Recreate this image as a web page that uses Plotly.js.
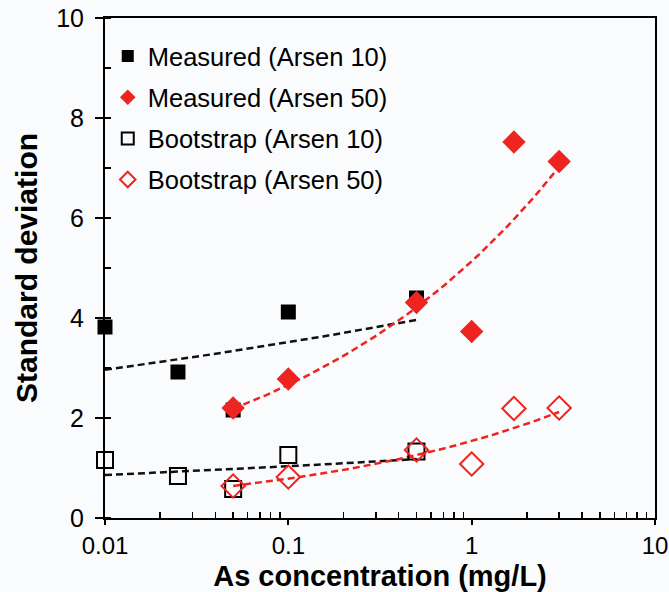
<!DOCTYPE html>
<html><head><meta charset="utf-8">
<script src="https://cdn.plot.ly/plotly-3.0.1.min.js"></script>
<style>html,body{margin:0;padding:0;background:#fafbfd;}</style>
</head><body>
<div id="chart" style="width:669px;height:592px;"></div>
<script>
// Data
const concM10 = [0.01, 0.025, 0.05, 0.1, 0.5];
const sdMeasured10 = [3.82, 2.92, 2.16, 4.12, 4.40];
const concM50 = [0.05, 0.1, 0.5, 1, 1.7, 3];
const sdMeasured50 = [2.20, 2.78, 4.31, 3.73, 7.52, 7.13];
const concB10 = [0.01, 0.025, 0.05, 0.1, 0.5];
const sdBoot10 = [1.16, 0.84, 0.58, 1.26, 1.33];
const concB50 = [0.05, 0.1, 0.5, 1, 1.7, 3];
const sdBoot50 = [0.64, 0.82, 1.36, 1.08, 2.19, 2.20];
const seriesNames = ['Measured (Arsen 10)', 'Measured (Arsen 50)', 'Bootstrap (Arsen 10)', 'Bootstrap (Arsen 50)'];
const xTickVals = [0.01, 0.1, 1, 10];
const xTickText = ['0.01', '0.1', '1', '10'];

// Power-law trendline (least squares in log-log space), as in the source spreadsheet
function powerFit(xs, ys) {
  const lx = xs.map(Math.log), ly = ys.map(Math.log);
  const n = xs.length;
  const mx = lx.reduce((a, b) => a + b, 0) / n, my = ly.reduce((a, b) => a + b, 0) / n;
  let sxy = 0, sxx = 0;
  for (let i = 0; i < n; i++) { sxy += (lx[i] - mx) * (ly[i] - my); sxx += (lx[i] - mx) ** 2; }
  const b = sxy / sxx, a = Math.exp(my - b * mx);
  const lo = Math.log10(Math.min(...xs)), hi = Math.log10(Math.max(...xs));
  const fx = [], fy = [];
  for (let k = 0; k <= 60; k++) { const x = Math.pow(10, lo + (hi - lo) * k / 60); fx.push(x); fy.push(a * Math.pow(x, b)); }
  return {x: fx, y: fy};
}

// minor tick positions 2..9 in each decade of the log axis
const minorX = [];
for (let d = -2; d < 1; d++) for (let m = 2; m <= 9; m++) minorX.push(m * Math.pow(10, d));

const RED = '#ee2420';
const f1 = powerFit(concM10, sdMeasured10), f2 = powerFit(concM50, sdMeasured50);
const f3 = powerFit(concB10, sdBoot10), f4 = powerFit(concB50, sdBoot50);
const lineStyle = (c) => ({color: c, width: 2.5, dash: '7px,4px'});

const traces = [
  {x: f1.x, y: f1.y, mode: 'lines', line: lineStyle('#111'), showlegend: false, hoverinfo: 'skip'},
  {x: f3.x, y: f3.y, mode: 'lines', line: lineStyle('#111'), showlegend: false, hoverinfo: 'skip'},
  {x: f2.x, y: f2.y, mode: 'lines', line: lineStyle(RED), showlegend: false, hoverinfo: 'skip'},
  {x: f4.x, y: f4.y, mode: 'lines', line: lineStyle(RED), showlegend: false, hoverinfo: 'skip'},
  {x: concM10, y: sdMeasured10, mode: 'markers', name: seriesNames[0], legendgroup: 'a',
   cliponaxis: false, marker: {symbol: 'square', size: 15, color: '#000'}},
  {x: concM50, y: sdMeasured50, mode: 'markers', name: seriesNames[1], legendgroup: 'b',
   cliponaxis: false, marker: {symbol: 'diamond', size: 18, color: RED}},
  {x: concB10, y: sdBoot10, mode: 'markers', name: seriesNames[2], legendgroup: 'c',
   cliponaxis: false, marker: {symbol: 'square-open', size: 16, color: '#000', line: {width: 2}}},
  {x: concB50, y: sdBoot50, mode: 'markers', name: seriesNames[3], legendgroup: 'd',
   cliponaxis: false, marker: {symbol: 'diamond-open', size: 18, color: RED, line: {width: 2}}}
];

const layout = {
  width: 669, height: 592,
  margin: {l: 105, r: 14, t: 18, b: 74},
  paper_bgcolor: '#fafbfd', plot_bgcolor: '#fafbfd',
  font: {family: 'Liberation Sans, Arial, sans-serif', color: '#000', size: 18},
  showlegend: true,
  legend: {x: 0.005, y: 0.97, xanchor: 'left', yanchor: 'top', bgcolor: 'rgba(0,0,0,0)',
           font: {size: 25.5}, tracegroupgap: 5, itemwidth: 30, itemsizing: 'constant', traceorder: 'grouped'},
  xaxis: {type: 'log', range: [-2, 1], tickvals: xTickVals, ticktext: xTickText,
          showgrid: false, zeroline: false, showline: true, linecolor: '#000', linewidth: 2, mirror: true,
          ticks: 'outside', ticklen: 5, tickwidth: 2, tickcolor: '#000', ticklabelstandoff: 0,
          tickfont: {size: 24},
          minor: {tickmode: 'array', tickvals: minorX, ticks: 'inside', ticklen: 6, tickwidth: 1.5, tickcolor: '#000', showgrid: false},
          title: {text: '<b>As concentration (mg/L)</b>', font: {size: 29}, standoff: 8}},
  yaxis: {range: [0, 10], dtick: 2, showgrid: false, zeroline: false, showline: true, linecolor: '#000',
          linewidth: 2, mirror: true, ticks: 'outside', ticklen: 8, tickwidth: 2, tickcolor: '#000',
          ticklabelstandoff: 6, tickfont: {size: 25},
          minor: {dtick: 1, ticks: 'inside', ticklen: 6, tickwidth: 1.5, tickcolor: '#000', showgrid: false},
          title: {text: '<b>Standard deviation</b>', font: {size: 30}, standoff: 10}}
};

Plotly.newPlot('chart', traces, layout, {displayModeBar: false, staticPlot: true});
</script>
</body></html>
